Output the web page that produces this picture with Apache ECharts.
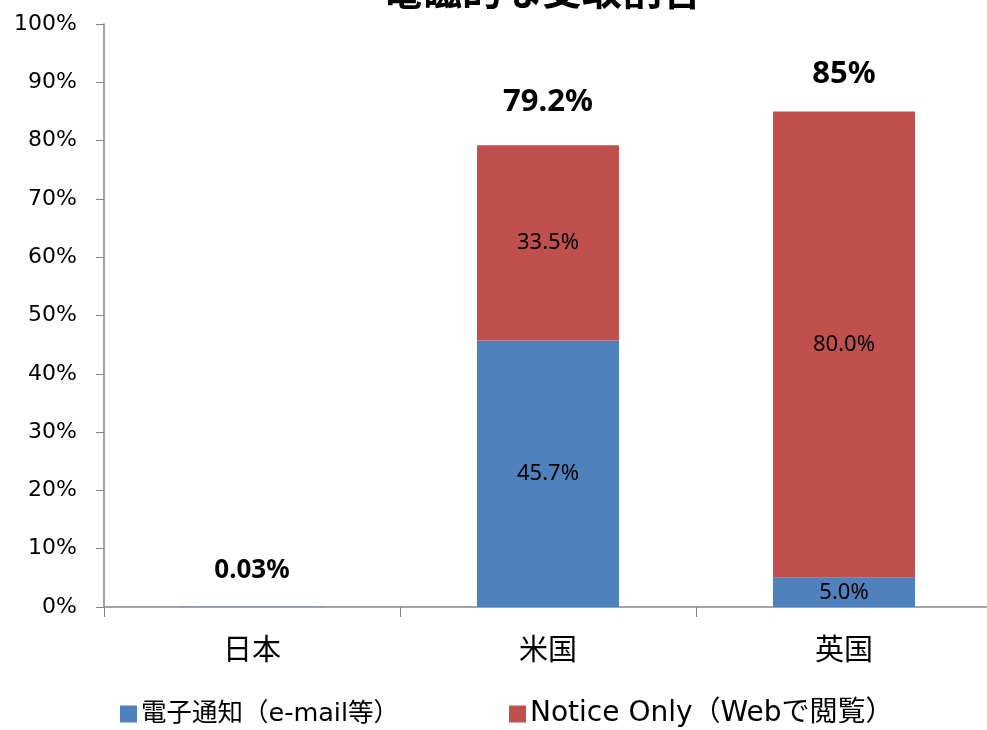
<!DOCTYPE html>
<html>
<head>
<meta charset="utf-8">
<script src="https://cdn.jsdelivr.net/npm/echarts@6/dist/echarts.min.js"></script>
<style>
  html, body { margin: 0; padding: 0; background: #fff; }
  #chart { width: 987px; height: 730px; }
</style>
</head>
<body>
<div id="chart"></div>
<script>
// Categories and values (percent)
const countries = ['日本', '米国', '英国'];
const emailValues = [0.03, 45.7, 5.0];
const webValues = [0, 33.5, 80.0];
const totalValues = [0.03, 79.2, 85];
const seriesNames = ['電子通知（e-mail等）', 'Notice Only（Webで閲覧）'];
const yTicks = [0, 10, 20, 30, 40, 50, 60, 70, 80, 90, 100];

const CJK = '"Noto Sans CJK JP", "Noto Sans", sans-serif';
const LATIN = '"Noto Sans", "Noto Sans CJK JP", sans-serif';
const WIDE = '"DejaVu Sans", "Noto Sans CJK JP", sans-serif';

const chart = echarts.init(document.getElementById('chart'));

const segLabel = {
  show: true,
  position: 'inside',
  color: '#000',
  fontSize: 22,
  fontFamily: LATIN,
  formatter: p => (p.value >= 1 ? p.value.toFixed(1) + '%' : '')
};

// per-bar style of the total labels
const totalLabelStyle = [
  { fontSize: 26, distance: 23 },
  { fontSize: 31, distance: 28 },
  { fontSize: 31, distance: 22 }
];

chart.setOption({
  animation: false,
  title: {
    text: '電磁的な受取割合',
    left: 537,
    textAlign: 'center',
    top: -35,
    textStyle: { fontSize: 40, fontWeight: 'bold', color: '#000', fontFamily: CJK }
  },
  legend: {
    data: [
      { name: seriesNames[0], textStyle: { fontSize: 25.5 } },
      { name: seriesNames[1], textStyle: { fontSize: 28 } }
    ],
    bottom: -3,
    left: 115,
    itemWidth: 17,
    itemHeight: 17,
    itemGap: 110,
    icon: 'rect',
    textStyle: { fontSize: 25.5, color: '#000', fontFamily: WIDE, padding: [0, 0, 0, -1] }
  },
  grid: { left: 104, width: 888, top: 24, bottom: 123, containLabel: false, outerBoundsMode: 'none' },
  xAxis: {
    type: 'category',
    data: countries,
    axisLine: { lineStyle: { color: '#868686', width: 1.5 } },
    axisTick: { show: true, length: 10, alignWithLabel: false, lineStyle: { color: '#868686' } },
    axisLabel: { fontSize: 29, color: '#000', margin: 27, fontFamily: CJK }
  },
  yAxis: {
    type: 'value',
    min: 0,
    max: 100,
    interval: 10,
    axisLine: { show: true, lineStyle: { color: '#868686', width: 1.5 } },
    axisTick: { show: true, length: 8, lineStyle: { color: '#868686' } },
    splitLine: { show: false },
    axisLabel: {
      fontSize: 22,
      color: '#000',
      margin: 27,
      fontFamily: '"DejaVu Sans", sans-serif',
      formatter: v => (yTicks.includes(v) ? v + '%' : '')
    }
  },
  series: [
    {
      name: seriesNames[0],
      type: 'bar',
      stack: 'total',
      barWidth: '48%',
      data: emailValues,
      itemStyle: { color: '#4F81BD' },
      label: segLabel
    },
    {
      name: seriesNames[1],
      type: 'bar',
      stack: 'total',
      barWidth: '48%',
      data: webValues,
      itemStyle: { color: '#C0504D' },
      label: segLabel
    },
    {
      // totals drawn above each stacked bar
      name: 'total',
      type: 'bar',
      barWidth: '48%',
      barGap: '-100%',
      data: totalValues.map((v, i) => ({
        value: v,
        label: totalLabelStyle[i]
      })),
      itemStyle: { color: 'rgba(0,0,0,0)' },
      silent: true,
      z: 1,
      label: {
        show: true,
        position: 'top',
        color: '#000',
        fontWeight: 'bold',
        fontFamily: LATIN,
        formatter: p => p.value + '%'
      }
    }
  ]
});
</script>
</body>
</html>
